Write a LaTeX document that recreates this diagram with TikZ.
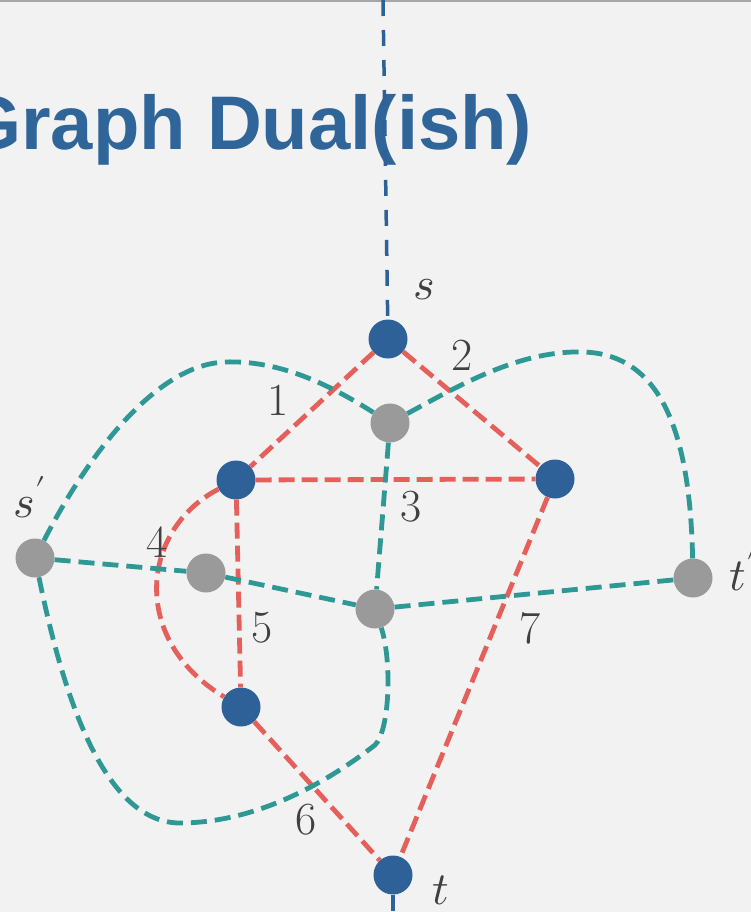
\documentclass[tikz,border=0pt]{standalone}
\usepackage{fontspec}
\usepackage{unicode-math}
\newfontfamily\titlefont{Liberation Sans}
\definecolor{bgc}{HTML}{F2F2F2}
\definecolor{redc}{HTML}{E6605B}
\definecolor{tealc}{HTML}{2E9894}
\definecolor{bluec}{HTML}{2E6197}
\definecolor{grayc}{HTML}{9A9A9A}
\definecolor{titlec}{HTML}{2F6598}
\definecolor{labc}{HTML}{404040}
\tikzset{
  bnode/.style={circle,fill=bluec,inner sep=0pt,minimum size=39pt},
  gnode/.style={circle,fill=grayc,inner sep=0pt,minimum size=39pt},
  redge/.style={draw=redc,line width=4.8pt,dash pattern=on 16pt off 7pt},
  tedge/.style={draw=tealc,line width=4.8pt,dash pattern=on 16pt off 8pt},
  bedge/.style={draw=bluec,line width=3.5pt,dash pattern=on 16pt off 14pt},
  lab/.style={text=labc,inner sep=0pt,font=\fontsize{46}{50}\selectfont},
}
\begin{document}
\begin{tikzpicture}[x=1pt,y=-1pt]
\useasboundingbox (0,0) rectangle (751,912);
\fill[bgc] (0,0) rectangle (751,912);
\draw[color=gray!70,line width=2.5pt] (0,1.25) -- (751,1.25);
% title
\node[anchor=base west,inner sep=0pt,text=titlec,font=\titlefont\bfseries\fontsize{76}{80}\selectfont] (title) at (-38,150) {Graph Dual(ish)};
% primal nodes
\node[bnode] (s) at (388,339) {};
\node[bnode] (A) at (236,480) {};
\node[bnode] (B) at (555,479) {};
\node[bnode] (C) at (241,707) {};
\node[bnode] (t) at (393,875) {};
% dual nodes
\node[gnode] (g1) at (390,423) {};
\node[gnode] (sp) at (35,558) {};
\node[gnode] (g4) at (206,573) {};
\node[gnode] (g5) at (375,609) {};
\node[gnode] (tp) at (693,578) {};
\coordinate (top) at (383,0);
\coordinate (bot) at (393,912);
% blue
\draw[bedge] (top) -- (s);
\draw[bedge] (t) -- (bot);
% red edges
\draw[redge] (s) -- (A);
\draw[redge] (s) -- (B);
\draw[redge] (A) -- (B);
\draw[redge] (A) -- (C);
\draw[redge] (A) .. controls (140,530) and (130,640) .. (C);
\draw[redge] (C) -- (t);
\draw[redge] (B) -- (t);
% teal edges
\draw[tedge] (sp) .. controls (80,470) and (150,365) .. (225,362) .. controls (280,360) and (330,385) .. (g1);
\draw[tedge] (g1) .. controls (460,385) and (520,350) .. (584,352) .. controls (660,355) and (690,430) .. (tp);
\draw[tedge] (g1) -- (g5);
\draw[tedge] (sp) -- (g4);
\draw[tedge] (g4) -- (g5);
\draw[tedge] (g5) -- (tp);
\draw[tedge] (sp) .. controls (60,680) and (100,825) .. (182,823) .. controls (260,822) and (330,780) .. (375,745) .. controls (390,730) and (392,660) .. (g5);
% labels
\node[lab] (l1) at (278,400) {1};
\node[lab] (l2) at (462,355) {2};
\node[lab] (l3) at (411,507) {3};
\node[lab] (l4) at (157,542) {4};
\node[lab] (l5) at (262,628) {5};
\node[lab] (l6) at (306,820) {6};
\node[lab] (l7) at (530,628) {7};
\node[lab] (ls) at (424,290) {$s$};
\node[lab] (lsp) at (30,497) {$s'$};
\node[lab] (ltp) at (743,570) {$t'$};
\node[lab] (lt) at (441,890) {$t$};
\end{tikzpicture}
\end{document}
